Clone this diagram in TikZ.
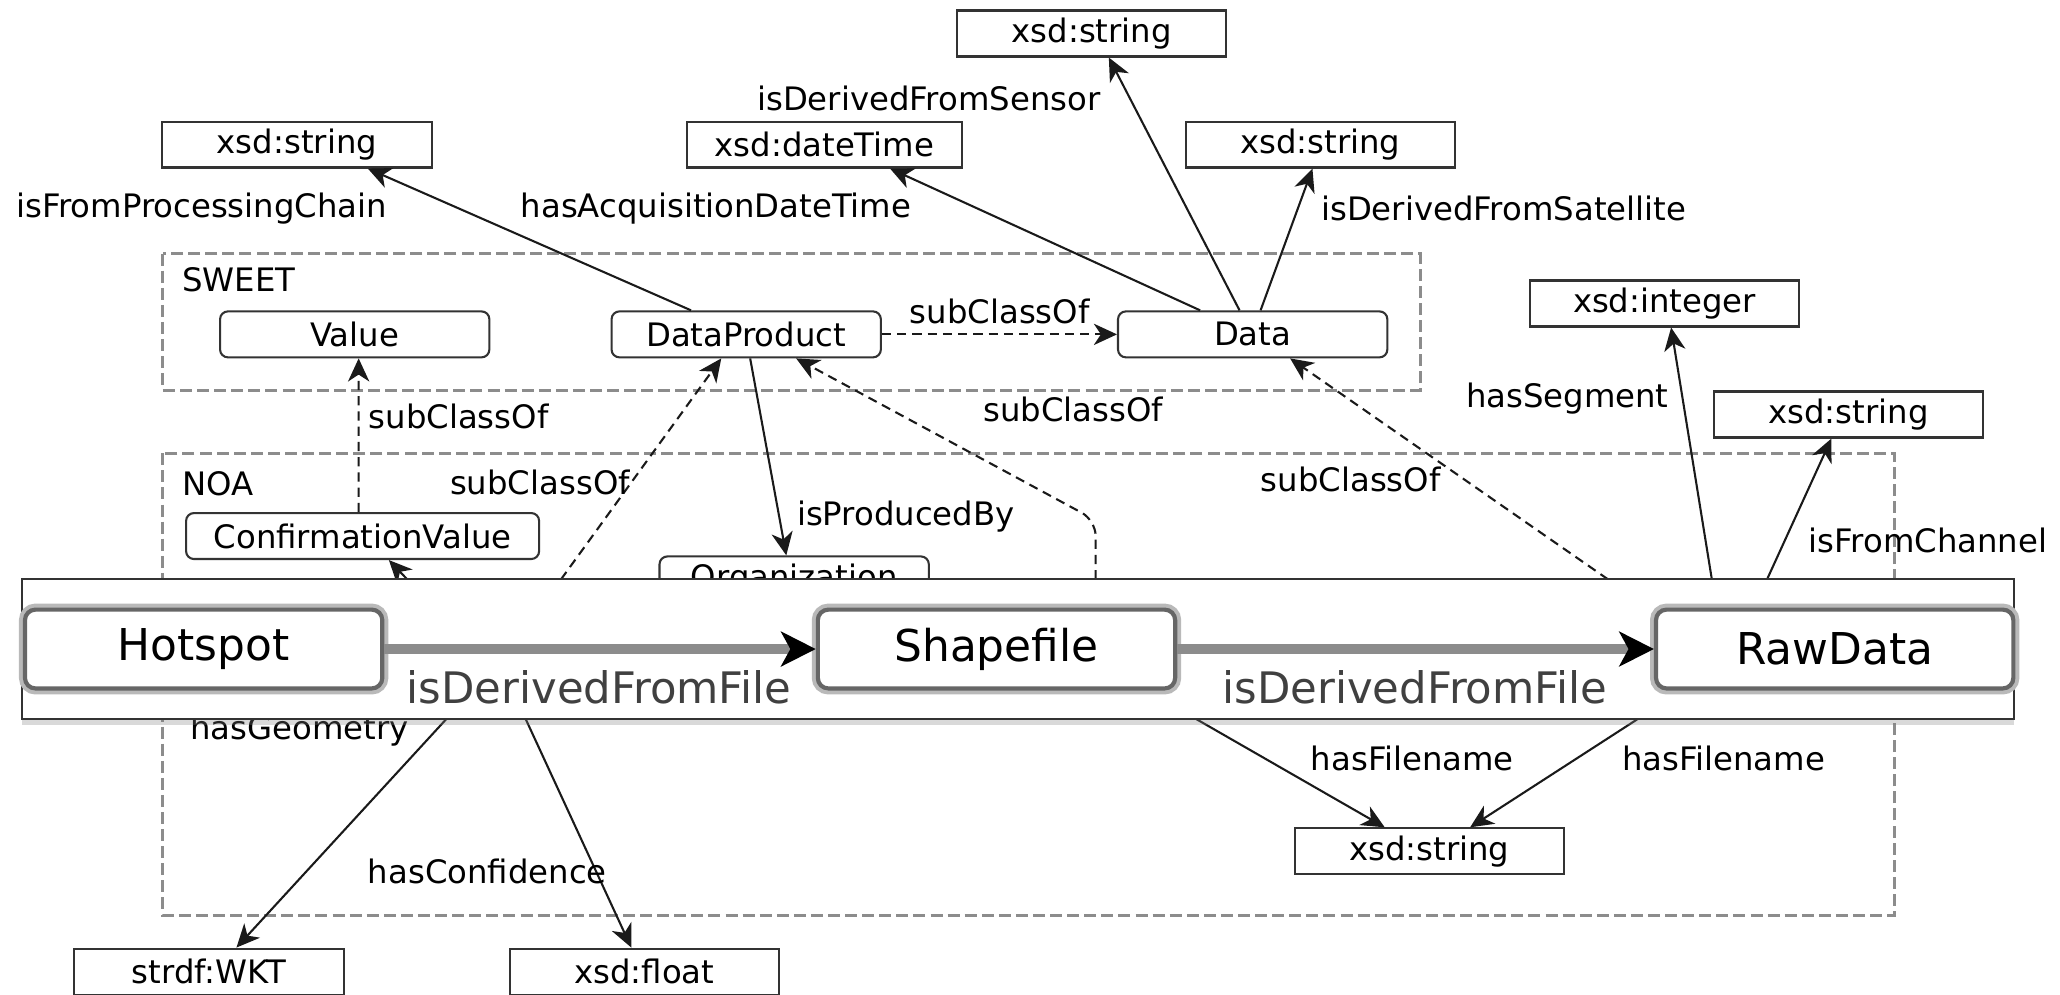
\documentclass[tikz,border=0pt]{standalone}
\usepackage{fontspec}
\setmainfont{DejaVu Sans}
\usepackage{tikz}
\usetikzlibrary{arrows.meta,shadows}
\definecolor{edge}{HTML}{1A1A1A}
\definecolor{frame}{HTML}{333333}
\definecolor{grpc}{HTML}{8C8C8C}
\tikzset{
  >={Stealth[length=5pt,width=4.6pt,inset=1.5pt]},
  dtype/.style={draw=frame,line width=0.45pt,minimum width=20.5mm,minimum height=3.5mm,inner xsep=2.1mm,inner ysep=0pt,font=\fontsize{7}{8}\selectfont,fill=white},
  cls/.style={dtype,rounded corners=0.6mm},
  lab/.style={font=\fontsize{7}{8}\selectfont,inner sep=0pt},
  grp/.style={draw=grpc,line width=0.65pt,dash pattern=on 2.6pt off 1.1pt},
  prop/.style={->,draw=edge,line width=0.45pt},
  sub/.style={->,draw=edge,line width=0.45pt,dash pattern=on 2pt off 1.3pt},
  zoomframe/.style={draw=black!80,line width=0.4pt,fill=white,inner sep=0pt,minimum width=151.6mm,minimum height=10.6mm,drop shadow={shadow xshift=0pt,shadow yshift=-1.3pt,opacity=0.3}},
  bigcls/.style={draw=black!60,line width=0.9pt,preaction={draw=gray!55,line width=2.6pt},rounded corners=0.8mm,fill=white,minimum width=27.2mm,minimum height=6mm,inner sep=0pt,font=\fontsize{9.5}{11}\selectfont},
  bigarr/.style={-{Stealth[length=7.5pt,width=7.5pt,inset=2pt,black]},draw=black!45,line width=2.2pt},
  biglab/.style={font=\fontsize{9.4}{11}\selectfont,text=black!75,inner sep=0pt},
}
\begin{document}
\begin{tikzpicture}[x=0.1mm,y=-0.1mm]
\useasboundingbox (0,0) rectangle (1568,757);
% ontology groups
\draw[grp] (124,193) rectangle (1081,297);
\draw[grp] (124,345) rectangle (1442,697);
\node[lab,anchor=west] (sweet) at (138,213) {SWEET};
\node[lab,anchor=west] (noa) at (138,368) {NOA};

% literal types
\node[dtype] (strChain) at (226,110) {xsd:string};
\node[dtype] (dateT) at (627.5,110) {xsd:dateTime};
\node[dtype] (strSensor) at (831,25.5) {xsd:string};
\node[dtype] (strSat) at (1005,110) {xsd:string};
\node[dtype] (intg) at (1267,231) {xsd:integer};
\node[dtype] (strChan) at (1407,315.5) {xsd:string};
\node[dtype] (strFile) at (1088,648) {xsd:string};
\node[dtype] (wkt) at (159,739.5) {strdf:WKT};
\node[dtype] (flt) at (490.5,739.5) {xsd:float};

% classes
\node[cls] (value) at (270,254.5) {Value};
\node[cls] (dp) at (568,254.5) {DataProduct};
\node[cls] (data) at (953.5,254.5) {Data};
\node[cls] (cv) at (276,408) {ConfirmationValue};
\node[cls] (org) at (604.5,441) {Organization};

% ends cut by the zoom box
\coordinate (hsA) at (310,441);
\coordinate (hsB) at (427,441);
\coordinate (fileTop) at (834,441);
\coordinate (bendPt) at (834,396);
\coordinate (rdA) at (1224,441);
\coordinate (rdB) at (1303,441);
\coordinate (rdC) at (1345,441);
\coordinate (hsD) at (340,547);
\coordinate (hsE) at (400,547);
\coordinate (sfA) at (910,547);
\coordinate (rdD) at (1247,547);

\draw[prop] ([xshift=-4.2mm]dp.north) -- ([xshift=5.4mm]strChain.south);
\draw[prop] ([xshift=-4mm]data.north) -- ([xshift=5mm]dateT.south);
\draw[prop] ([xshift=-1mm]data.north) -- ([xshift=1.3mm]strSensor.south);
\draw[prop] ([xshift=0.6mm]data.north) -- ([xshift=-0.6mm]strSat.south);
\draw[sub] (dp.east) -- (data.west);
\draw[sub] ([xshift=-0.3mm]cv.north) -- ([xshift=0.3mm]value.south);
\draw[sub] (hsB) -- ([xshift=-1.9mm]dp.south);
\draw[prop] ([xshift=0.3mm]dp.south) -- ([xshift=-0.6mm]org.north);
\draw[sub,rounded corners=1.2mm] (fileTop) -- (bendPt) -- ([xshift=3.8mm]dp.south);
\draw[sub] (rdA) -- ([xshift=2.85mm]data.south);
\draw[prop] (rdB) -- ([xshift=0.5mm]intg.south);
\draw[prop] (rdC) -- ([xshift=-1.3mm]strChan.south);
\draw[prop] (hsA) -- ([xshift=2mm]cv.south);
\draw[prop] (hsD) -- ([xshift=2.1mm]wkt.north);
\draw[prop] (hsE) -- ([xshift=-1mm]flt.north);
\draw[prop] (sfA) -- ([xshift=-3.4mm]strFile.north);
\draw[prop] (rdD) -- ([xshift=3.1mm]strFile.north);

\node[lab] (lChain) at (153.5,159) {isFromProcessingChain};
\node[lab] (lAcq) at (545,159) {hasAcquisitionDateTime};
\node[lab] (lSensor) at (707,75) {isDerivedFromSensor};
\node[lab,anchor=west] (lSat) at (1005,159) {isDerivedFromSatellite};
\node[lab] (lSub1) at (761,237) {subClassOf};
\node[lab,anchor=west] (lSub2) at (280,317) {subClassOf};
\node[lab] (lSub3) at (817,312) {subClassOf};
\node[lab] (lSub4) at (411,367) {subClassOf};
\node[lab,anchor=west] (lSub5) at (959,365) {subClassOf};
\node[lab] (lSeg) at (1193,303) {hasSegment};
\node[lab,anchor=west] (lChan) at (1376,411) {isFromChannel};
\node[lab,anchor=west] (lProd) at (606,393) {isProducedBy};
\node[lab] (lGeom) at (228,556) {hasGeometry};
\node[lab] (lConf) at (371,663) {hasConfidence};
\node[lab] (lFile1) at (1075,577) {hasFilename};
\node[lab] (lFile2) at (1312,577) {hasFilename};

% zoomed part
\node[zoomframe] (zoomBox) at (775,494) {};
\node[bigcls] (hs) at (155,494) {Hotspot};
\node[bigcls] (sf) at (758.5,494) {Shapefile};
\node[bigcls] (rd) at (1396.5,494) {RawData};
\draw[bigarr] (hs) -- (sf);
\draw[bigarr] (sf) -- (rd);
\node[biglab] (lDff1) at (456,523) {isDerivedFromFile};
\node[biglab] (lDff2) at (1077,523) {isDerivedFromFile};
\end{tikzpicture}
\end{document}
